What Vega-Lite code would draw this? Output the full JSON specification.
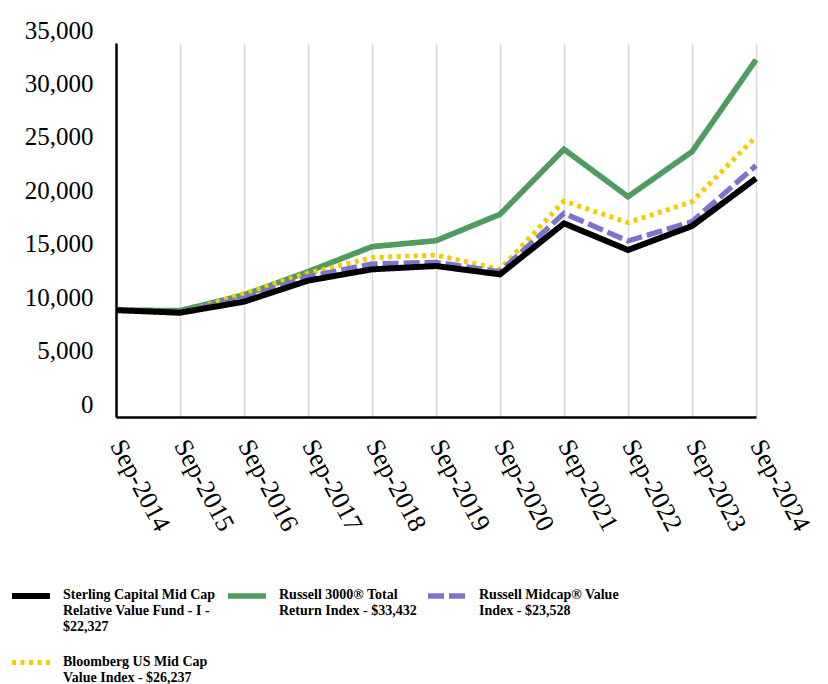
{
  "$schema": "https://vega.github.io/schema/vega-lite/v6.json",
  "width": 640,
  "height": 374,
  "autosize": {"type": "none"},
  "padding": {"left": 116, "top": 43, "right": 72, "bottom": 267},
  "background": "white",
  "config": {"view": {"stroke": null}},
  "data": {"values": [
    {"date": "Sep-2014", "series": "Russell 3000", "value": 10000},
    {"date": "Sep-2015", "series": "Russell 3000", "value": 9950},
    {"date": "Sep-2016", "series": "Russell 3000", "value": 11420},
    {"date": "Sep-2017", "series": "Russell 3000", "value": 13600},
    {"date": "Sep-2018", "series": "Russell 3000", "value": 15940},
    {"date": "Sep-2019", "series": "Russell 3000", "value": 16500},
    {"date": "Sep-2020", "series": "Russell 3000", "value": 18970},
    {"date": "Sep-2021", "series": "Russell 3000", "value": 25050},
    {"date": "Sep-2022", "series": "Russell 3000", "value": 20620},
    {"date": "Sep-2023", "series": "Russell 3000", "value": 24830},
    {"date": "Sep-2024", "series": "Russell 3000", "value": 33432},
    {"date": "Sep-2014", "series": "Bloomberg", "value": 10000},
    {"date": "Sep-2015", "series": "Bloomberg", "value": 9650},
    {"date": "Sep-2016", "series": "Bloomberg", "value": 11570},
    {"date": "Sep-2017", "series": "Bloomberg", "value": 13450},
    {"date": "Sep-2018", "series": "Bloomberg", "value": 14910},
    {"date": "Sep-2019", "series": "Bloomberg", "value": 15160},
    {"date": "Sep-2020", "series": "Bloomberg", "value": 13820},
    {"date": "Sep-2021", "series": "Bloomberg", "value": 20210},
    {"date": "Sep-2022", "series": "Bloomberg", "value": 18180},
    {"date": "Sep-2023", "series": "Bloomberg", "value": 20150},
    {"date": "Sep-2024", "series": "Bloomberg", "value": 26237},
    {"date": "Sep-2014", "series": "Midcap", "value": 10000},
    {"date": "Sep-2015", "series": "Midcap", "value": 9800},
    {"date": "Sep-2016", "series": "Midcap", "value": 11100},
    {"date": "Sep-2017", "series": "Midcap", "value": 13130},
    {"date": "Sep-2018", "series": "Midcap", "value": 14320},
    {"date": "Sep-2019", "series": "Midcap", "value": 14470},
    {"date": "Sep-2020", "series": "Midcap", "value": 13600},
    {"date": "Sep-2021", "series": "Midcap", "value": 19060},
    {"date": "Sep-2022", "series": "Midcap", "value": 16470},
    {"date": "Sep-2023", "series": "Midcap", "value": 18280},
    {"date": "Sep-2024", "series": "Midcap", "value": 23528},
    {"date": "Sep-2014", "series": "Sterling", "value": 10000},
    {"date": "Sep-2015", "series": "Sterling", "value": 9760},
    {"date": "Sep-2016", "series": "Sterling", "value": 10790},
    {"date": "Sep-2017", "series": "Sterling", "value": 12760},
    {"date": "Sep-2018", "series": "Sterling", "value": 13820},
    {"date": "Sep-2019", "series": "Sterling", "value": 14130},
    {"date": "Sep-2020", "series": "Sterling", "value": 13350},
    {"date": "Sep-2021", "series": "Sterling", "value": 18120},
    {"date": "Sep-2022", "series": "Sterling", "value": 15630},
    {"date": "Sep-2023", "series": "Sterling", "value": 17870},
    {"date": "Sep-2024", "series": "Sterling", "value": 22327}
  ]},
  "mark": {"type": "line", "strokeJoin": "miter", "strokeCap": "butt"},
  "encoding": {
    "x": {
      "field": "date", "type": "ordinal", "sort": null,
      "scale": {"type": "point", "padding": 0},
      "axis": {
        "title": null, "ticks": false, "grid": true, "gridColor": "#d9d9d9", "gridWidth": 1.5,
        "domainColor": "#000000", "domainWidth": 2.5,
        "labelAngle": 62, "labelAlign": "left", "labelBaseline": "middle",
        "labelFont": "Liberation Serif", "labelFontSize": 26, "labelColor": "#000000",
        "labelPadding": 24
      }
    },
    "y": {
      "field": "value", "type": "quantitative",
      "scale": {"domain": [0, 35000], "nice": false},
      "axis": {
        "title": null, "ticks": false, "grid": false,
        "values": [0, 5000, 10000, 15000, 20000, 25000, 30000, 35000],
        "format": ",.0f", "domainColor": "#000000", "domainWidth": 2.5,
        "labelFont": "Liberation Serif", "labelFontSize": 25, "labelColor": "#000000",
        "labelPadding": 23, "labelOffset": -13
      }
    },
    "color": {
      "field": "series", "type": "nominal",
      "scale": {
        "domain": ["Sterling", "Russell 3000", "Midcap", "Bloomberg"],
        "range": ["#000000", "#509B5F", "#7D73CD", "#F2CD00"]
      },
      "legend": {
        "title": null, "orient": "none", "legendX": -107, "legendY": 531, "padding": 0,
        "direction": "horizontal", "columns": 3, "columnPadding": 0, "rowPadding": 7,
        "symbolType": "stroke", "symbolSize": 1444, "symbolStrokeWidth": 5,
        "labelFont": "Liberation Serif", "labelFontSize": 14, "labelFontWeight": "bold",
        "labelColor": "#000000", "labelOffset": 10, "labelBaseline": "top", "labelLimit": 200,
        "labelExpr": "datum.label == 'Sterling' ? ['Sterling Capital Mid Cap', 'Relative Value Fund - I -', '$22,327'] : datum.label == 'Russell 3000' ? ['Russell 3000® Total', 'Return Index - $33,432', ' '] : datum.label == 'Midcap' ? ['Russell Midcap® Value', 'Index - $23,528', ' '] : ['Bloomberg US Mid Cap', 'Value Index - $26,237']",
        "encode": {"labels": {"update": {"dy": {"value": -8}, "lineHeight": {"value": 16}}}}
      }
    },
    "strokeDash": {
      "field": "series", "type": "nominal",
      "scale": {
        "domain": ["Sterling", "Russell 3000", "Midcap", "Bloomberg"],
        "range": [[1, 0], [1, 0], [16, 5], [4, 4.5]]
      },
      "legend": null
    },
    "strokeWidth": {
      "field": "series", "type": "nominal",
      "scale": {
        "domain": ["Sterling", "Russell 3000", "Midcap", "Bloomberg"],
        "range": [6, 5, 5, 5]
      },
      "legend": null
    }
  }
}
